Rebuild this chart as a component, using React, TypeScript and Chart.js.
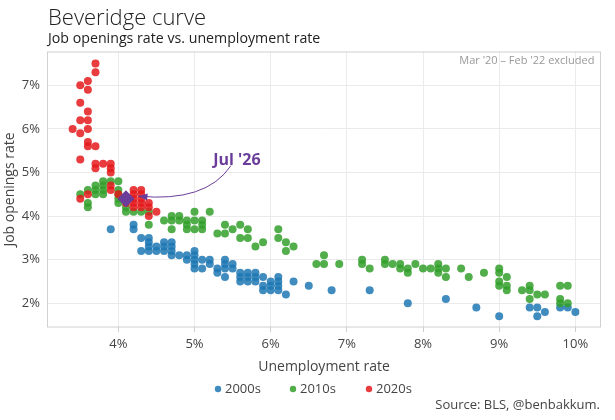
import { useEffect, useRef } from "react";
import Chart from "chart.js/auto";

const FONT = '"Open Sans", "DejaVu Sans", sans-serif';

// [unemployment rate %, job openings rate %]
const points2000s: [number, number][] = [
  [3.9, 3.7], [4.2, 3.8], [4.2, 3.7], [4.3, 3.5], [4.3, 3.2],
  [4.4, 3.5], [4.4, 3.4], [4.4, 3.3], [4.4, 3.2], [4.5, 3.3], [4.5, 3.2],
  [4.6, 3.4], [4.6, 3.3], [4.6, 3.2], [4.7, 3.4], [4.7, 3.3], [4.7, 3.2], [4.7, 3.1],
  [4.8, 3.1], [4.9, 3.1], [4.9, 3.0],
  [5.0, 3.2], [5.0, 3.1], [5.0, 3.0], [5.0, 2.9], [5.0, 2.8],
  [5.1, 3.0], [5.1, 2.8], [5.2, 3.0], [5.2, 2.9], [5.3, 2.8], [5.3, 2.7],
  [5.4, 3.0], [5.4, 2.9], [5.4, 2.8], [5.4, 2.6], [5.5, 2.9], [5.5, 2.8],
  [5.6, 2.7], [5.6, 2.6], [5.6, 2.5], [5.7, 2.7], [5.7, 2.6], [5.7, 2.5],
  [5.8, 2.7], [5.8, 2.6], [5.8, 2.5], [5.9, 2.6], [5.9, 2.4], [5.9, 2.3],
  [6.0, 2.5], [6.0, 2.4], [6.0, 2.3], [6.1, 2.6], [6.1, 2.5], [6.1, 2.4], [6.1, 2.3],
  [6.2, 2.2], [6.3, 2.5], [6.5, 2.4], [6.8, 2.3], [7.3, 2.3], [7.8, 2.0],
  [8.3, 2.1], [8.7, 1.9], [9.0, 1.7], [9.4, 1.9], [9.5, 1.9], [9.5, 1.7],
  [9.6, 1.8], [9.8, 1.9], [9.9, 1.9], [10.0, 1.8],
];

const points2010s: [number, number][] = [
  [3.5, 4.5], [3.6, 4.6], [3.6, 4.3], [3.6, 4.2],
  [3.7, 4.7], [3.7, 4.6], [3.7, 4.5], [3.8, 4.8], [3.8, 4.7], [3.8, 4.6], [3.8, 4.5],
  [3.9, 4.8], [4.0, 4.8], [4.0, 4.6], [4.0, 4.5], [4.0, 4.4], [4.0, 4.3],
  [4.1, 4.2], [4.1, 4.1], [4.2, 4.1], [4.3, 4.1], [4.4, 4.1], [4.4, 3.8],
  [4.6, 3.9], [4.7, 4.0], [4.7, 3.9], [4.7, 3.7], [4.8, 4.0], [4.8, 3.9],
  [4.9, 3.9], [4.9, 3.8], [4.9, 3.7], [5.0, 4.1], [5.0, 3.9], [5.0, 3.7],
  [5.1, 3.9], [5.1, 3.8], [5.1, 3.7], [5.2, 4.1], [5.3, 3.6],
  [5.4, 3.8], [5.4, 3.6], [5.5, 3.7], [5.6, 3.8], [5.6, 3.5], [5.7, 3.7], [5.7, 3.5],
  [5.8, 3.3], [5.9, 3.4], [6.1, 3.7], [6.1, 3.5], [6.2, 3.4], [6.2, 3.2], [6.3, 3.3],
  [6.6, 2.9], [6.7, 3.1], [6.7, 2.9], [6.9, 2.9], [7.2, 3.0], [7.2, 2.9], [7.3, 2.8],
  [7.5, 3.0], [7.5, 2.9], [7.6, 2.9], [7.7, 2.9], [7.7, 2.8], [7.8, 2.8], [7.8, 2.7],
  [7.9, 2.9], [8.0, 2.8], [8.1, 2.8], [8.2, 2.9], [8.2, 2.8], [8.2, 2.7],
  [8.3, 2.8], [8.3, 2.6], [8.5, 2.8], [8.6, 2.6], [8.8, 2.7],
  [9.0, 2.8], [9.0, 2.7], [9.0, 2.5], [9.0, 2.4], [9.1, 2.6], [9.1, 2.4], [9.1, 2.3],
  [9.3, 2.3], [9.4, 2.4], [9.4, 2.3], [9.4, 2.1], [9.5, 2.2], [9.6, 2.2],
  [9.8, 2.4], [9.8, 2.1], [9.8, 2.0], [9.9, 2.4], [9.9, 2.0],
];

const points2020s: [number, number][] = [
  [3.7, 7.5], [3.7, 7.3], [3.5, 7.0], [3.6, 7.1], [3.6, 6.9],
  [3.5, 6.6], [3.6, 6.4], [3.5, 6.2], [3.6, 6.2], [3.4, 6.0], [3.5, 5.9], [3.6, 6.0],
  [3.6, 5.7], [3.6, 5.6], [3.7, 5.6], [3.5, 5.3],
  [3.7, 5.2], [3.7, 5.1], [3.8, 5.2], [3.9, 5.2], [3.9, 5.1], [3.9, 5.0],
  [3.9, 4.7], [3.9, 4.6], [3.5, 4.4], [3.6, 4.5], [4.0, 4.5], [4.1, 4.3],
  [4.2, 4.6], [4.2, 4.5], [4.2, 4.4], [4.2, 4.3], [4.2, 4.2],
  [4.3, 4.6], [4.3, 4.5], [4.3, 4.4], [4.3, 4.3], [4.3, 4.2],
  [4.4, 4.3], [4.4, 4.2], [4.4, 4.0], [4.5, 4.1],
];

const latestPoint: [number, number] = [4.1, 4.4];
const latestLabel = "Jul '26";

const seriesNames = ["2000s", "2010s", "2020s"];
const seriesColors = ["rgba(31,120,180,0.85)", "rgba(51,160,44,0.85)", "rgba(228,26,28,0.85)"];
const latestColor = "#6a3d9a";

const xTickValues = [4, 5, 6, 7, 8, 9, 10];
const yTickValues = [2, 3, 4, 5, 6, 7];

const decorations = {
  id: "decorations",
  beforeDatasetsDraw(chart: any) {
    const { ctx, chartArea: a } = chart;
    ctx.save();
    ctx.strokeStyle = "#d0d0d0";
    ctx.lineWidth = 1;
    ctx.strokeRect(a.left, a.top, a.right - a.left, a.bottom - a.top);
    ctx.restore();
  },
  afterDatasetsDraw(chart: any) {
    const { ctx } = chart;
    const px = chart.scales.x.getPixelForValue(latestPoint[0]);
    const py = chart.scales.y.getPixelForValue(latestPoint[1]);
    const tipX = px + 12.5;
    const tipY = py - 2.5;
    const sx = px + 105;
    const sy = py - 33;
    const cx = px + 80;
    const cy = py + 4;
    ctx.save();
    ctx.strokeStyle = latestColor;
    ctx.fillStyle = latestColor;
    ctx.lineWidth = 1;
    ctx.beginPath();
    ctx.moveTo(sx, sy);
    ctx.quadraticCurveTo(cx, cy, tipX, tipY);
    ctx.stroke();
    const ang = Math.atan2(tipY - cy, tipX - cx);
    const len = 9;
    const half = 3.5;
    const bx = tipX - Math.cos(ang) * len;
    const by = tipY - Math.sin(ang) * len;
    ctx.beginPath();
    ctx.moveTo(tipX, tipY);
    ctx.lineTo(bx - Math.sin(ang) * half, by + Math.cos(ang) * half);
    ctx.lineTo(bx + Math.sin(ang) * half, by - Math.cos(ang) * half);
    ctx.closePath();
    ctx.fill();
    ctx.font = `bold 16px ${FONT}`;
    ctx.textAlign = "center";
    ctx.textBaseline = "middle";
    ctx.fillText(latestLabel, px + 111, py - 38);
    ctx.restore();
  },
  afterDraw(chart: any) {
    const { ctx, chartArea: a } = chart;
    ctx.save();
    ctx.fillStyle = "#222";
    ctx.textAlign = "left";
    ctx.textBaseline = "alphabetic";
    ctx.font = `300 22px ${FONT}`;
    ctx.fillText("Beveridge curve", 48, 25);
    ctx.font = `14.2px ${FONT}`;
    ctx.fillText("Job openings rate vs. unemployment rate", 48, 43);

    ctx.fillStyle = "#999";
    ctx.font = `11px ${FONT}`;
    ctx.textAlign = "right";
    ctx.textBaseline = "middle";
    ctx.fillText("Mar '20 \u2013 Feb '22 excluded", a.right - 6, a.top + 9);

    ctx.fillStyle = "#444";
    ctx.font = `14px ${FONT}`;
    ctx.textAlign = "center";
    ctx.fillText("Unemployment rate", (a.left + a.right) / 2, 367);
    ctx.save();
    ctx.translate(10, (a.top + a.bottom) / 2);
    ctx.rotate(-Math.PI / 2);
    ctx.fillText("Job openings rate", 0, 0);
    ctx.restore();

    // legend
    ctx.font = `13px ${FONT}`;
    ctx.textAlign = "left";
    const legendX = [218, 293, 369];
    seriesNames.forEach((name, i) => {
      ctx.fillStyle = seriesColors[i];
      ctx.beginPath();
      ctx.arc(legendX[i], 389, 3.2, 0, Math.PI * 2);
      ctx.fill();
      ctx.fillStyle = "#444";
      ctx.fillText(name, legendX[i] + 7, 389);
    });

    ctx.textAlign = "right";
    ctx.fillStyle = "#444";
    ctx.fillText("Source: BLS, @benbakkum.", 600, 405);
    ctx.restore();
  },
};

function BeveridgeChart() {
  const canvasRef = useRef<HTMLCanvasElement>(null);
  const chartRef = useRef<Chart | null>(null);

  useEffect(() => {
    if (!canvasRef.current) return;
    chartRef.current?.destroy();

    const toXY = (pts: [number, number][]) => pts.map(([x, y]) => ({ x, y }));
    const series = [points2000s, points2010s, points2020s];

    chartRef.current = new Chart(canvasRef.current, {
      type: "scatter",
      data: {
        datasets: [
          ...series.map((pts, i) => ({
            label: seriesNames[i],
            data: toXY(pts),
            backgroundColor: seriesColors[i],
            borderWidth: 0,
            pointRadius: 4,
            pointHoverRadius: 4,
            // later decades drawn on top
            order: series.length - i,
          })),
          {
            label: latestLabel,
            data: toXY([latestPoint]),
            backgroundColor: latestColor,
            borderWidth: 0,
            pointStyle: "rectRot",
            pointRadius: 8.5,
            pointHoverRadius: 8.5,
            order: 0,
          },
        ],
      },
      options: {
        responsive: true,
        maintainAspectRatio: false,
        animation: false,
        events: [],
        layout: { padding: { top: 52, right: 14.5, bottom: 0, left: 0 } },
        plugins: {
          legend: { display: false },
          title: { display: false },
          tooltip: { enabled: false },
        },
        scales: {
          x: {
            type: "linear",
            min: 3.07,
            max: 10.33,
            afterBuildTicks: (s: any) => {
              s.ticks = xTickValues.map((v) => ({ value: v }));
            },
            afterFit: (s: any) => {
              s.height = 93;
            },
            ticks: {
              callback: (v: any) => `${v}%`,
              color: "#444",
              font: { family: FONT, size: 13 },
              padding: 4,
              maxRotation: 0,
              autoSkip: false,
            },
            grid: { color: "#ebebeb", tickLength: 5, tickColor: "#d0d0d0" },
            border: { display: false },
          },
          y: {
            type: "linear",
            min: 1.455,
            max: 7.765,
            afterBuildTicks: (s: any) => {
              s.ticks = yTickValues.map((v) => ({ value: v }));
            },
            afterFit: (s: any) => {
              s.width = 47.5;
            },
            ticks: {
              callback: (v: any) => `${v}%`,
              color: "#444",
              font: { family: FONT, size: 13 },
              padding: 7.5,
            },
            grid: { color: "#ebebeb", drawTicks: false },
            border: { display: false },
          },
        },
      },
      plugins: [decorations],
    });

    return () => {
      chartRef.current?.destroy();
      chartRef.current = null;
    };
  }, []);

  return (
    <div style={{ position: "absolute", left: 0, top: 0, width: 615, height: 420, background: "#fff" }}>
      <canvas ref={canvasRef} />
    </div>
  );
}

export default function App() {
  return <BeveridgeChart />;
}
